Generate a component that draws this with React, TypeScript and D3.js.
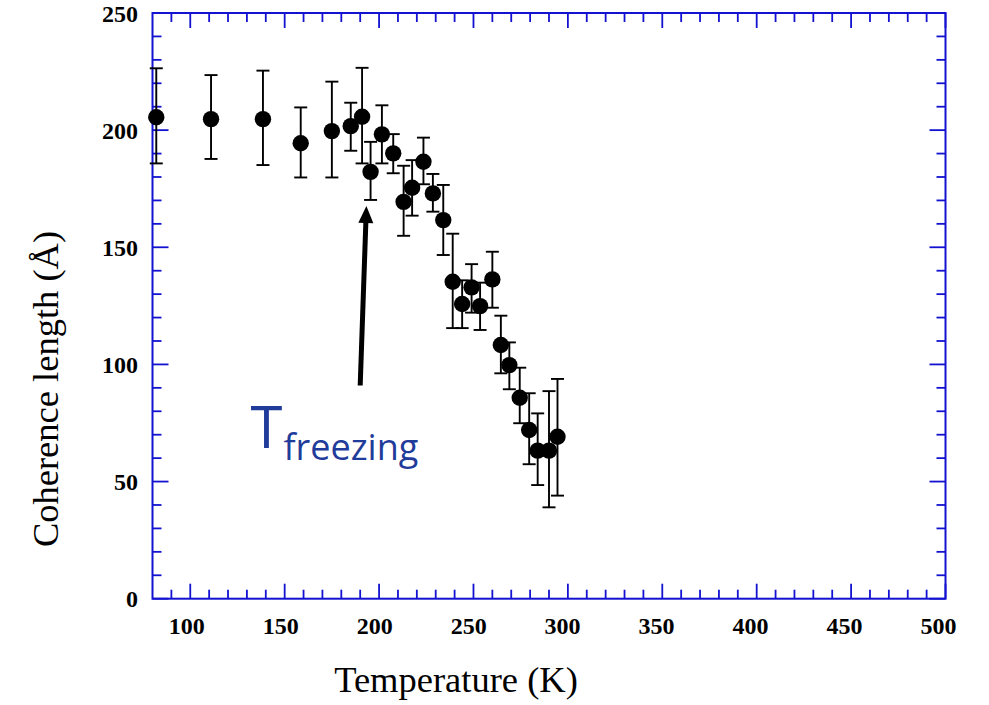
import React from "react";
import * as d3 from "d3";

// ---- Data ----
const temps = [82, 111, 138.5, 158.5, 175, 185, 191, 195.5, 201.5, 207.5, 213, 217.5, 223.5, 228.5, 234, 239, 244, 249, 253.5, 260, 264.5, 269, 274.5, 279.5, 284, 290, 294.5];
const coherence = [205.5, 204.7, 204.7, 194.4, 199.6, 201.7, 205.7, 182.2, 198.2, 190.1, 169.4, 175.4, 186.5, 173, 161.6, 135.3, 125.8, 132.9, 124.9, 136.3, 108.3, 99.7, 85.8, 72, 63.2, 63.2, 69.1];
const errHigh = [226.4, 223.5, 225.4, 209.7, 220.7, 211.7, 226.6, 195, 210.6, 198.3, 184.8, 187.2, 196.8, 181.3, 176.6, 155.8, 135.9, 142.8, 134.9, 148.1, 120.8, 109.4, 98.6, 87.7, 79.1, 88.6, 93.8];
const errLow = [185.8, 187.7, 185.1, 179.8, 179.8, 191.2, 185.8, 170.2, 185.8, 181.6, 154.9, 163.5, 176.9, 165.2, 146.7, 115.5, 115.5, 122.1, 114.7, 124.2, 96.2, 89.4, 74.9, 57.4, 48.5, 39, 44];

const xTickLabels = [100, 150, 200, 250, 300, 350, 400, 450, 500];
const yTickLabels = [0, 50, 100, 150, 200, 250];
const xDomain = [80, 500];
const yDomain = [0, 250];
const xTitle = "Temperature (K)";
const yTitle = "Coherence length (Å)";
const annotationMain = "T";
const annotationSub = "freezing";
const arrowFrom = [190, 91];
const arrowTo = [193.3, 167.6];
const annotationAt = [131.9, 64.2];

const W = 989;
const H = 705;
const left = 152.5;
const right = 945.5;
const top = 13;
const bottom = 598.7;
const AXIS = "#1212d0";

export default function App() {
  const x = d3.scaleLinear().domain(xDomain).range([left, right]);
  const y = d3.scaleLinear().domain(yDomain).range([bottom, top]);

  const xMinor = d3.range(xDomain[0], xDomain[1] + 0.1, 10).filter((v) => v % 50 !== 0 && v > xDomain[0] && v < xDomain[1]);
  const yMinor = d3.range(yDomain[0], yDomain[1] + 0.1, 10).filter((v) => v % 50 !== 0);

  const majorLen = 16;
  const minorLen = 9;

  // arrow geometry
  const ax1 = x(arrowFrom[0]);
  const ay1 = y(arrowFrom[1]);
  const ax2 = x(arrowTo[0]);
  const ay2 = y(arrowTo[1]);
  const dx = ax2 - ax1;
  const dy = ay2 - ay1;
  const len = Math.hypot(dx, dy);
  const ux = dx / len;
  const uy = dy / len;
  const headLen = 17;
  const headHalf = 7.5;
  const bx = ax2 - ux * headLen;
  const by = ay2 - uy * headLen;
  const head = [
    [ax2, ay2],
    [bx - uy * headHalf, by + ux * headHalf],
    [bx + uy * headHalf, by - ux * headHalf],
  ];

  const serif = "'Liberation Serif', 'Times New Roman', serif";

  return (
    <svg
      width={W}
      height={H}
      style={{ position: "absolute", left: 0, top: 0, display: "block", background: "#fff" }}
    >
      <rect x={0} y={0} width={W} height={H} fill="#fff" />

      {xMinor.map((v) => (
        <g key={"xm" + v} stroke={AXIS} strokeWidth={1.8}>
          <line x1={x(v)} x2={x(v)} y1={bottom} y2={bottom - minorLen} />
          <line x1={x(v)} x2={x(v)} y1={top} y2={top + minorLen} />
        </g>
      ))}
      {xTickLabels.map((v) => (
        <g key={"xM" + v} stroke={AXIS} strokeWidth={1.8}>
          <line x1={x(v)} x2={x(v)} y1={bottom} y2={bottom - majorLen + 1} />
          <line x1={x(v)} x2={x(v)} y1={top} y2={top + majorLen - 1} />
        </g>
      ))}
      {yMinor.map((v) => (
        <g key={"ym" + v} stroke={AXIS} strokeWidth={1.8}>
          <line x1={left} x2={left + minorLen} y1={y(v)} y2={y(v)} />
          <line x1={right} x2={right - minorLen} y1={y(v)} y2={y(v)} />
        </g>
      ))}
      {yTickLabels.map((v) => (
        <g key={"yM" + v} stroke={AXIS} strokeWidth={1.8}>
          <line x1={left} x2={left + majorLen} y1={y(v)} y2={y(v)} />
          <line x1={right} x2={right - majorLen} y1={y(v)} y2={y(v)} />
        </g>
      ))}

      <rect x={left} y={top} width={right - left} height={bottom - top} fill="none" stroke={AXIS} strokeWidth={2} />

      {xTickLabels.map((v) => (
        <text
          key={"xl" + v}
          x={x(v) - 3.5 - (v - 100) * 0.009}
          y={633.5}
          textAnchor="middle"
          fontFamily={serif}
          fontWeight="bold"
          fontSize={24}
          fill="#000"
        >
          {v}
        </text>
      ))}
      {yTickLabels.map((v) => (
        <text
          key={"yl" + v}
          x={138}
          y={y(v) + 8.5}
          textAnchor="end"
          fontFamily={serif}
          fontWeight="bold"
          fontSize={24}
          fill="#000"
        >
          {v}
        </text>
      ))}

      <text x={456} y={692} textAnchor="middle" fontFamily={serif} fontSize={36.5} fill="#000">
        {xTitle}
      </text>
      <text
        transform={`translate(58,389) rotate(-90)`}
        textAnchor="middle"
        fontFamily={serif}
        fontSize={36.5}
        fill="#000"
      >
        {yTitle}
      </text>

      {temps.map((t, i) => (
        <g key={"e" + i} stroke="#000" strokeWidth={1.9}>
          <line x1={x(t)} x2={x(t)} y1={y(errHigh[i])} y2={y(errLow[i])} />
          <line x1={x(t) - 6.5} x2={x(t) + 6.5} y1={y(errHigh[i])} y2={y(errHigh[i])} />
          <line x1={x(t) - 6.5} x2={x(t) + 6.5} y1={y(errLow[i])} y2={y(errLow[i])} />
        </g>
      ))}
      {temps.map((t, i) => (
        <circle key={"p" + i} cx={x(t)} cy={y(coherence[i])} r={8.2} fill="#000" />
      ))}

      <line x1={ax1} y1={ay1} x2={bx + ux * 2} y2={by + uy * 2} stroke="#000" strokeWidth={5} />
      <polygon points={head.map((p) => p.join(",")).join(" ")} fill="#000" />

      <text
        x={x(annotationAt[0])}
        y={y(annotationAt[1])}
        fontFamily="'Open Sans', 'Noto Sans', sans-serif"
        fill="#1f3c9a"
      >
        <tspan fontSize={58}>{annotationMain}</tspan>
        <tspan fontSize={36} dy={12} dx={1}>{annotationSub}</tspan>
      </text>
    </svg>
  );
}
